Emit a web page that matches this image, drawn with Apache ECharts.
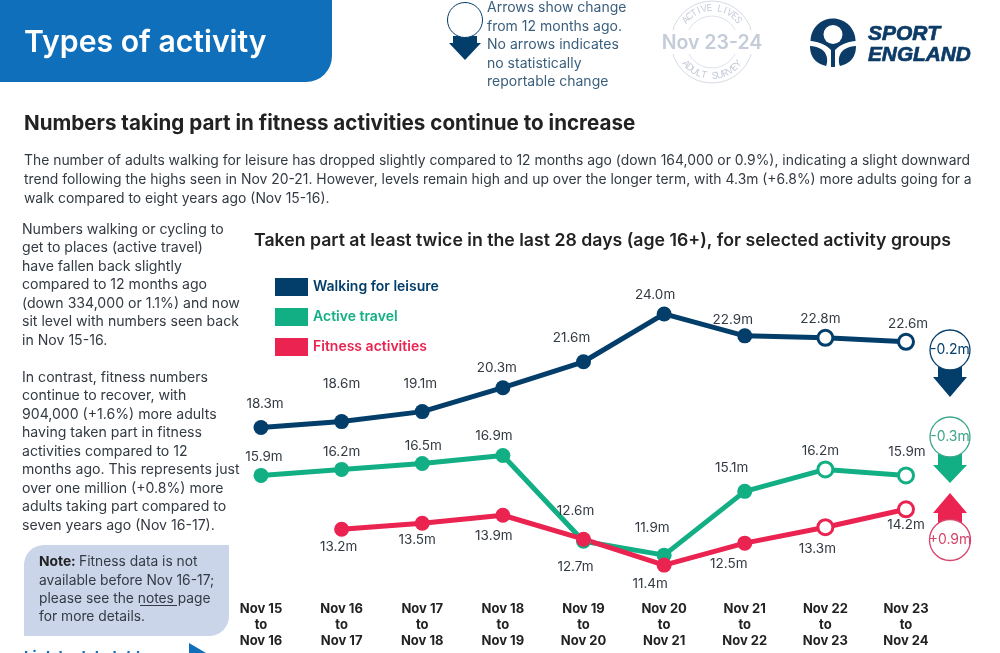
<!DOCTYPE html>
<html><head><meta charset="utf-8">
<style>html,body{margin:0;padding:0;background:#fff}#c{width:1000px;height:653px;overflow:hidden}</style>
<script src="https://cdn.jsdelivr.net/npm/echarts@6/dist/echarts.min.js"></script>
</head><body><div id="c"></div>
<script>
const categories = ['Nov 15\nto\nNov 16','Nov 16\nto\nNov 17','Nov 17\nto\nNov 18','Nov 18\nto\nNov 19','Nov 19\nto\nNov 20','Nov 20\nto\nNov 21','Nov 21\nto\nNov 22','Nov 22\nto\nNov 23','Nov 23\nto\nNov 24'];
const walking = [18.3,18.6,19.1,20.3,21.6,24.0,22.9,22.8,22.6];
const active = [15.9,16.2,16.5,16.9,12.6,11.9,15.1,16.2,15.9];
const fitness = [null,13.2,13.5,13.9,12.7,11.4,12.5,13.3,14.2];
const hollowFrom = 7;
const walkingLabelOffsets = [[4,1],[0,-13],[-2,-3],[-6,5],[-12,1],[-9,6],[-12,9],[-5,7],[2,8]];
const activeLabelOffsets = [[3,6],[0,7],[1,7],[-9,5],[-8,-6],[-12,-3],[-13,1],[-5,8],[1,3]];
const fitnessLabelOffsets = [null,[-3,-7],[-5,-8],[-9,-4],[-8,3],[-14,-6],[-16,-4],[-8,-4],[0,-10]];

const NAVY='#033E6B', GREEN='#12AF85', PINK='#EA2350', TXT='#333a42', GREY='#C4CCD9', LOGO='#0B3B66';
const FONT='Inter, "Noto Sans", sans-serif';

function makeSeries(name,vals,color,side,offs){
  return {
    name,type:'line',data:vals.map((v,i)=>({
      value:v,
      symbolSize:15,
      itemStyle:i>=hollowFrom?{color:'#fff',borderColor:color,borderWidth:3}:{color:color,borderColor:color,borderWidth:0},
      label:offs[i]?{show:true,position:side,offset:offs[i],formatter:p=>p.value.toFixed(1)+'m'}:{show:false}
    })),
    connectNulls:false,symbol:'circle',showSymbol:true,
    lineStyle:{color,width:5},itemStyle:{color},
    label:{color:TXT,fontFamily:FONT,fontSize:13.5,distance:10},
    silent:true,animation:false,z:3
  };
}
function txt(x,y,text,size,color,weight,extra){
  return {type:'text',silent:true,x,y,style:Object.assign({text,fontFamily:FONT,fontSize:size,fill:color,fontWeight:weight||'normal',lineHeight:Math.round(size*1.4)},extra||{})};
}
function arcText(str,cx,cy,r,a0,a1,size,bottom){
  const out=[];const n=str.length;
  for(let i=0;i<n;i++){
    const d=a0+(a1-a0)*i/(n-1), a=d*Math.PI/180;
    out.push({type:'text',silent:true,x:cx+r*Math.sin(a),y:cy-r*Math.cos(a),rotation:bottom?-(d-180)*Math.PI/180:-a,
      style:{text:str[i],fontFamily:FONT,fontSize:size,fill:GREY,align:'center',verticalAlign:'middle'}});
  }
  return out;
}
function badge(cy,r,color,text){
  return [{type:'circle',silent:true,z:5,shape:{cx:950,cy,r},style:{fill:'#fff',stroke:color,lineWidth:1.3}},
    {type:'text',silent:true,z:6,x:950,y:cy,style:{text,fontFamily:FONT,fontSize:14,fill:color,align:'center',verticalAlign:'middle'}}];
}
function poly(color,pts,z){return {type:'polygon',silent:true,z:z||4,shape:{points:pts},style:{fill:color}};}
// logo outline helpers (decoration, not data)
function curve(p0,c,p1){const o=[];for(let t=0;t<=1.001;t+=0.1){o.push([(1-t)*(1-t)*p0[0]+2*t*(1-t)*c[0]+t*t*p1[0],(1-t)*(1-t)*p0[1]+2*t*(1-t)*c[1]+t*t*p1[1]]);}return o;}
function arcPts(cx,cy,r,a0,a1){const o=[];for(let a=a0;a<=a1+0.01;a+=8){const q=a*Math.PI/180;o.push([cx+r*Math.cos(q),cy+r*Math.sin(q)]);}return o;}

const leftText='Numbers walking or cycling to\nget to places (active travel)\nhave fallen back slightly\ncompared to 12 months ago\n(down 334,000 or 1.1%) and now\nsit level with numbers seen back\nin Nov 15-16.';
const leftText2='In contrast, fitness numbers\ncontinue to recover, with\n904,000 (+1.6%) more adults\nhaving taken part in fitness\nactivities compared to 12\nmonths ago. This represents just\nover one million (+0.8%) more\nadults taking part compared to\nseven years ago (Nov 16-17).';

const graphics=[
  {type:'rect',silent:true,shape:{x:-30,y:-30,width:362,height:112,r:[0,0,26,0]},style:{fill:'#0F6FBA'}},
  txt(24,23,'Types of activity',30.2,'#fff','600',{lineHeight:40}),
  poly(NAVY,[[453,36],[477,36],[477,43],[481,43],[465,60],[449,43],[453,43]]),
  {type:'circle',silent:true,z:5,shape:{cx:465,cy:20,r:17.5},style:{fill:'#fff',stroke:NAVY,lineWidth:1}},
  txt(487,-1,'Arrows show change\nfrom 12 months ago.\nNo arrows indicates\nno statistically\nreportable change',14,'#3a5f7d','normal',{lineHeight:18.5}),
  {type:'circle',silent:true,shape:{cx:712,cy:42,r:41},style:{fill:'none',stroke:'#D6DBE4',lineWidth:1}},
  {type:'circle',silent:true,shape:{cx:712,cy:42,r:26},style:{fill:'none',stroke:'#DDE2EA',lineWidth:1}},
  {type:'rect',silent:true,shape:{x:655,y:30,width:115,height:24},style:{fill:'#fff'}},
  {type:'text',silent:true,x:712,y:43,style:{text:'Nov 23-24',fontFamily:FONT,fontWeight:'600',fontSize:19.5,fill:GREY,align:'center',verticalAlign:'middle'}},
  ...arcText('ACTIVE LIVES',712,42,34,-50,50,9.5,false),
  ...arcText('ADULT SURVEY',712,42,34,230,130,9.5,true),
  poly(LOGO,[...arcPts(833,41,22.5,180,360),...curve([855.5,41],[843,42],[835,50]),...curve([831,50],[823,42],[810.5,41])],1),
  {type:'circle',silent:true,z:2,shape:{cx:833,cy:34.5,r:9.5},style:{fill:'#fff'}},
  {type:'rect',silent:true,z:2,shape:{x:831,y:44,width:4,height:23},style:{fill:LOGO}},
  poly(LOGO,[...curve([810,46],[825,47],[827,58]),...curve([827,58],[827.5,63],[826,66]),...curve([826,66],[810,62],[810,46])],1),
  poly(LOGO,[...curve([856,46],[841,47],[839,58]),...curve([839,58],[838.5,63],[840,66]),...curve([840,66],[856,62],[856,46])],1),
  {type:'text',silent:true,x:868,y:24,style:{text:'SPORT',fontFamily:'"Liberation Sans"',fontWeight:'bold',fontStyle:'italic',fontSize:21,fill:LOGO,stroke:LOGO,lineWidth:0.7}},
  {type:'text',silent:true,x:868,y:45,style:{text:'ENGLAND',fontFamily:'"Liberation Sans"',fontWeight:'bold',fontStyle:'italic',fontSize:20.8,fill:LOGO,stroke:LOGO,lineWidth:0.7}},
  txt(24,111,'Numbers taking part in fitness activities continue to increase',20.6,'#222','700',{lineHeight:25}),
  txt(24,151,'The number of adults walking for leisure has dropped slightly compared to 12 months ago (down 164,000 or 0.9%), indicating a slight downward\ntrend following the highs seen in Nov 20-21. However, levels remain high and up over the longer term, with 4.3m (+6.8%) more adults going for a\nwalk compared to eight years ago (Nov 15-16).',13.9,TXT,'normal',{lineHeight:19}),
  txt(22,220,leftText,14.1,TXT,'normal',{lineHeight:18.5}),
  txt(22,368,leftText2,14.1,TXT,'normal',{lineHeight:18.5}),
  {type:'rect',silent:true,shape:{x:24,y:545,width:205,height:91,r:[20,0,20,0]},style:{fill:'#CAD5EA'}},
  {type:'text',silent:true,x:39,y:553,style:{rich:{b:{fontFamily:FONT,fontWeight:'700',fontSize:13.8,fill:'#222',lineHeight:18.3},n:{fontFamily:FONT,fontSize:13.8,fill:TXT,lineHeight:18.3}},text:'{b|Note:} {n|Fitness data is not}\n{n|available before Nov 16-17;}\n{n|please see the notes page}\n{n|for more details.}'}},
  {type:'rect',silent:true,shape:{x:140,y:605,width:37,height:1},style:{fill:TXT}},
  txt(24,647,'Link to data tables',15,'#0F6FBA','700'),
  poly('#0F6FBA',[[189,643],[206,653],[189,663]]),
  poly(NAVY,[[938,367],[962,367],[962,377],[967,377],[950,397],[933,377],[938,377]]),
  ...badge(350,20,NAVY,'-0.2m'),
  poly(GREEN,[[938,454],[962,454],[962,465],[967,465],[950,483],[933,465],[938,465]]),
  ...badge(437,20,'#3BA58A','-0.3m'),
  poly(PINK,[[950,493],[967,513],[962,513],[962,524],[938,524],[938,513],[933,513]]),
  ...badge(540,20.5,'#D6436B','+0.9m')
];

const chart=echarts.init(document.getElementById('c'),null,{renderer:'canvas',width:1000,height:653});
chart.setOption({
  animation:false,backgroundColor:'#fff',
  title:{text:'Taken part at least twice in the last 28 days (age 16+), for selected activity groups',left:249,top:227,
    textStyle:{fontFamily:FONT,fontWeight:'600',fontSize:17.7,color:'#222'}},
  legend:{left:270,top:273,orient:'vertical',itemWidth:33,itemHeight:18,itemGap:12,icon:'rect',
    data:['Walking for leisure','Active travel','Fitness activities'],
    textStyle:{color:'inherit',fontFamily:FONT,fontWeight:'600',fontSize:14},selectedMode:false},
  grid:{left:261,right:94,top:294,bottom:60},
  xAxis:{type:'category',boundaryGap:false,data:categories,axisLine:{show:false},axisTick:{show:false},splitLine:{show:false},
    axisLabel:{interval:0,margin:8,color:'#222',fontFamily:FONT,fontWeight:'700',fontSize:13,lineHeight:16}},
  yAxis:{type:'value',min:10,max:25,show:false},
  series:[
    makeSeries('Walking for leisure',walking,NAVY,'top',walkingLabelOffsets),
    makeSeries('Active travel',active,GREEN,'top',activeLabelOffsets),
    makeSeries('Fitness activities',fitness,PINK,'bottom',fitnessLabelOffsets)
  ],
  graphic:{elements:graphics}
});
</script></body></html>
